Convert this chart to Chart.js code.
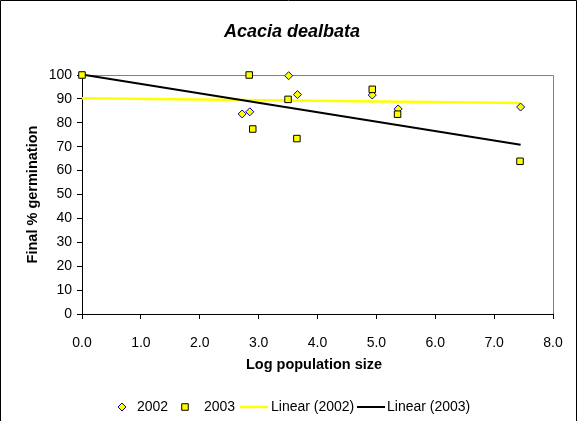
<!DOCTYPE html>
<html>
<head>
<meta charset="utf-8">
<script src="https://cdn.jsdelivr.net/npm/chart.js@4.4.1/dist/chart.umd.min.js"></script>
<style>
  html, body { margin: 0; padding: 0; background: #fff; }
  #wrap { width: 577px; height: 421px; position: relative; }
</style>
</head>
<body>
<div id="wrap"><canvas id="c" width="577" height="421"></canvas></div>
<script>
// Germination of Acacia dealbata versus log population size
const chartTitle = 'Acacia dealbata';
const xAxisTitle = 'Log population size';
const yAxisTitle = 'Final % germination';

const logSize2002 = [2.72, 2.85, 3.51, 3.66, 4.93, 5.37, 7.45];
const germ2002    = [83.7, 84.6, 99.7, 91.8, 91.6, 85.8, 86.6];

const logSize2003 = [0, 2.84, 2.90, 3.50, 3.65, 4.93, 5.36, 7.44];
const germ2003    = [100, 100, 77.4, 89.8, 73.4, 94.0, 83.6, 63.9];

// Linear trend lines (end points)
const trendX      = [0, 7.45];
const trend2002   = [90.3, 88.3];
const trend2003   = [100.2, 70.8];

const xTicks = [0, 1, 2, 3, 4, 5, 6, 7, 8];
const yTicks = [0, 10, 20, 30, 40, 50, 60, 70, 80, 90, 100];

const pts = (xs, ys) => xs.map((x, i) => ({ x: x, y: ys[i] }));

const FONT = '"Liberation Sans", Arial, sans-serif';

const PLOT = { left: 82, right: 553, top: 75, bottom: 314 };

const decor = {
  id: 'decor',
  beforeDraw(chart) {
    const ctx = chart.ctx;
    ctx.save();
    ctx.fillStyle = '#fff';
    ctx.fillRect(0, 0, chart.width, chart.height);
    // outer frame
    ctx.strokeStyle = '#000';
    ctx.lineWidth = 1;
    ctx.beginPath();
    ctx.moveTo(0.5, 421);
    ctx.lineTo(0.5, 0.5);
    ctx.lineTo(576.5, 0.5);
    ctx.lineTo(576.5, 421);
    ctx.stroke();
    // plot area top / right border
    const a = chart.chartArea;
    ctx.strokeStyle = '#808080';
    ctx.beginPath();
    ctx.moveTo(a.left, a.top + 0.5);
    ctx.lineTo(a.right + 0.5, a.top + 0.5);
    ctx.lineTo(a.right + 0.5, a.bottom);
    ctx.stroke();
    ctx.restore();
  },
  afterDraw(chart) {
    const ctx = chart.ctx;
    const a = chart.chartArea;
    ctx.save();
    ctx.fillStyle = '#000';
    ctx.textBaseline = 'middle';
    ctx.textAlign = 'center';
    ctx.font = 'italic bold 18px ' + FONT;
    ctx.fillText(chartTitle, 292, 32);
    ctx.font = 'bold 14.5px ' + FONT;
    ctx.fillText(xAxisTitle, 314, 365);
    ctx.save();
    ctx.translate(33, (a.top + a.bottom) / 2);
    ctx.rotate(-Math.PI / 2);
    ctx.fillText(yAxisTitle, 0, 0);
    ctx.restore();

    // legend
    const ly = 407;
    ctx.font = '14px ' + FONT;
    ctx.textAlign = 'left';
    const ds = chart.data.datasets;
    const items = [
      { d: ds[0], kind: 'point', mx: 122, tx: 137 },
      { d: ds[1], kind: 'point', mx: 185, tx: 204 },
      { d: ds[2], kind: 'line', mx: 240, tx: 271 },
      { d: ds[3], kind: 'line', mx: 357, tx: 387 }
    ];
    items.forEach(it => {
      if (it.kind === 'point') {
        ctx.fillStyle = it.d.backgroundColor;
        ctx.strokeStyle = it.d.borderColor;
        ctx.lineWidth = it.d.borderWidth;
        ctx.beginPath();
        const r = it.d.pointRadius;
        if (it.d.pointStyle === 'rect') {
          const s = r * Math.SQRT1_2;
          ctx.rect(it.mx - s, ly - s, 2 * s, 2 * s);
        } else {
          ctx.moveTo(it.mx, ly - r);
          ctx.lineTo(it.mx + r, ly);
          ctx.lineTo(it.mx, ly + r);
          ctx.lineTo(it.mx - r, ly);
          ctx.closePath();
        }
        ctx.fill();
        ctx.stroke();
      } else {
        ctx.strokeStyle = it.d.borderColor;
        ctx.lineWidth = it.d.borderWidth;
        ctx.beginPath();
        ctx.moveTo(it.mx, ly);
        ctx.lineTo(it.mx + 28, ly);
        ctx.stroke();
      }
      ctx.fillStyle = '#000';
      ctx.fillText(it.d.label, it.tx, ly);
    });
    ctx.restore();
  }
};

new Chart(document.getElementById('c'), {
  type: 'scatter',
  data: {
    datasets: [
      {
        label: '2002',
        data: pts(logSize2002, germ2002),
        pointStyle: 'rectRot',
        pointRadius: 4,
        pointHoverRadius: 4,
        backgroundColor: '#FFFF00',
        borderColor: '#0000B0',
        borderWidth: 1,
        showLine: false,
        clip: false,
        order: 1
      },
      {
        label: '2003',
        data: pts(logSize2003, germ2003),
        pointStyle: 'rect',
        pointRadius: 4.6,
        pointHoverRadius: 4.6,
        backgroundColor: '#FFFF00',
        borderColor: '#000000',
        borderWidth: 1,
        showLine: false,
        clip: false,
        order: 0
      },
      {
        label: 'Linear (2002)',
        data: pts(trendX, trend2002),
        showLine: true,
        borderColor: '#FFFF00',
        backgroundColor: '#FFFF00',
        borderWidth: 2.5,
        pointRadius: 0,
        pointHoverRadius: 0,
        order: 3
      },
      {
        label: 'Linear (2003)',
        data: pts(trendX, trend2003),
        showLine: true,
        borderColor: '#000000',
        backgroundColor: '#000000',
        borderWidth: 2,
        pointRadius: 0,
        pointHoverRadius: 0,
        clip: false,
        order: 2
      }
    ]
  },
  options: {
    responsive: false,
    animation: false,
    events: [],
    layout: { padding: { left: 0, right: 577 - PLOT.right, top: PLOT.top, bottom: 0 } },
    plugins: {
      legend: { display: false },
      title: { display: false },
      tooltip: { enabled: false }
    },
    scales: {
      x: {
        type: 'linear',
        min: 0,
        max: 8,
        afterFit(s) {
          s.height = 421 - PLOT.bottom;
          s.paddingLeft = 0;
          s.paddingRight = 0;
        },
        afterBuildTicks(s) { s.ticks = xTicks.map(v => ({ value: v })); },
        ticks: {
          color: '#000',
          font: { family: FONT, size: 14 },
          padding: 16,
          maxRotation: 0,
          callback: v => Number(v).toFixed(1)
        },
        grid: { display: true, drawOnChartArea: false, drawTicks: true, tickLength: 5, color: '#000' },
        border: { display: true, color: '#000', width: 1 }
      },
      y: {
        type: 'linear',
        min: 0,
        max: 100,
        afterFit(s) {
          s.width = PLOT.left;
          s.paddingTop = 0;
          s.paddingBottom = 0;
        },
        afterBuildTicks(s) { s.ticks = yTicks.map(v => ({ value: v })); },
        ticks: {
          color: '#000',
          font: { family: FONT, size: 14 },
          padding: 5
        },
        grid: { display: true, drawOnChartArea: false, drawTicks: true, tickLength: 5, color: '#000' },
        border: { display: true, color: '#000', width: 1 }
      }
    }
  },
  plugins: [decor]
});
</script>
</body>
</html>
